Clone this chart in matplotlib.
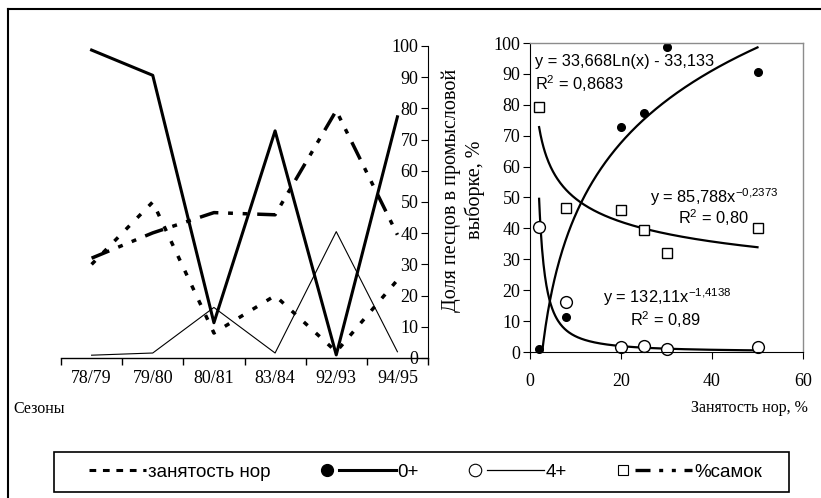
import numpy as np
import matplotlib
matplotlib.use('Agg')
import matplotlib.pyplot as plt
from matplotlib.lines import Line2D
from matplotlib.patches import Rectangle
from matplotlib.legend_handler import HandlerBase

# seasons and their values
seasons = ['78/79', '79/80', '80/81', '83/84', '92/93', '94/95']
burrows = [30, 50, 8, 20, 2, 25]               # занятость нор, %
age0 = [98.7, 90.6, 11.3, 72.8, 1.0, 77.3]     # 0+
age4 = [0.9, 1.6, 16.2, 1.6, 40.5, 2.0]        # 4+
females = [32, 40.1, 46.6, 45.9, 79.3, 39.5]   # % самок

# trendline coefficients printed on the chart
log_a, log_b = 33.668, -33.133
pow_f_a, pow_f_b = 85.788, -0.2373
pow_4_a, pow_4_b = 132.11, -1.4138

SERIF = ['Liberation Serif', 'DejaVu Serif']
SANS = ['Liberation Sans', 'DejaVu Sans']

plt.rcParams['font.family'] = SERIF
plt.rcParams['font.size'] = 13
plt.rcParams['mathtext.fontset'] = 'custom'
plt.rcParams['mathtext.rm'] = 'Liberation Sans'

W, H = 821, 498
fig = plt.figure(figsize=(W / 100, H / 100), dpi=100)


def fx(px):
    return px / W


def fy(py):
    return 1 - py / H


# outer frame (left and top edges visible)
fig.add_artist(Line2D([fx(8), fx(8)], [0, fy(9)], transform=fig.transFigure,
                      color='black', lw=1.5))
fig.add_artist(Line2D([fx(8), 1], [fy(9), fy(9)], transform=fig.transFigure,
                      color='black', lw=1.5))

# ---- left panel: seasons ----
ax1 = fig.add_axes([fx(61), fy(358), fx(428) - fx(61), fy(46) - fy(358)])
x = np.arange(len(seasons))
ax1.plot(x, burrows, color='black', lw=2.5, linestyle=(0, (1.5, 3.2)))
ax1.plot(x, age0, color='black', lw=2.2)
ax1.plot(x, age4, color='black', lw=0.8)
ax1.plot(x, females, color='black', lw=2.5,
         linestyle=(0, (5.5, 2.8, 1.4, 2.8, 1.4, 2.8)))
ax1.set_xlim(-0.5, len(seasons) - 0.5)
ax1.set_ylim(0, 100)
for s in ['left', 'top', 'right']:
    ax1.spines[s].set_visible(False)
ax1.spines['bottom'].set_linewidth(1)
ax1.set_yticks([])
ax1.set_xticks(x)
ax1.set_xticklabels(seasons)
ax1.set_xticks(np.arange(-0.5, len(seasons)), minor=True)
ax1.tick_params(axis='x', which='major', length=0, pad=8.5, labelsize=13)
ax1.tick_params(axis='x', which='minor', length=5, direction='out', width=1)
ax1.patch.set_alpha(0)

# value axis standing at the right edge of the left panel
yax = fig.add_axes([fx(428), fy(358), 0.0001, fy(46) - fy(358)])
yax.set_ylim(0, 100)
yax.set_yticks(range(0, 101, 10))
yax.set_xticks([])
for s in ['right', 'top', 'bottom']:
    yax.spines[s].set_visible(False)
yax.tick_params(axis='y', length=5, direction='out', pad=2, labelsize=13)

# ---- right panel: burrow occupancy ----
ax2 = fig.add_axes([fx(530), fy(352), fx(803) - fx(530), fy(43) - fy(352)])
xs = np.linspace(2, 50, 300)
ax2.plot(xs, log_a * np.log(xs) + log_b, color='black', lw=1.6)
ax2.plot(xs, pow_f_a * xs ** pow_f_b, color='black', lw=1.6)
ax2.plot(xs, pow_4_a * xs ** pow_4_b, color='black', lw=1.6)
ax2.plot(burrows, age0, linestyle='none', marker='o', ms=5.5,
         mfc='black', mec='black', clip_on=False)
ax2.plot(burrows, age4, linestyle='none', marker='o', ms=8.5,
         mfc='white', mec='black', mew=1, clip_on=False)
ax2.plot(burrows, females, linestyle='none', marker='s', ms=7.5,
         mfc='white', mec='black', mew=1, clip_on=False)
ax2.set_xlim(0, 60)
ax2.set_ylim(0, 100)
ax2.set_xticks([0, 20, 40, 60])
ax2.set_yticks(range(0, 101, 10))
ax2.tick_params(length=5, direction='out', pad=2, labelsize=13)
ax2.tick_params(axis='x', pad=10)
for s in ['top', 'right']:
    ax2.spines[s].set_color('#8c8c8c')
    ax2.spines[s].set_linewidth(1)

eq = dict(fontsize=11.8, family=SANS, va='center', ha='left')
ax2.text(1.1, 94, 'y = 33,668Ln(x) - 33,133', **eq)
ax2.text(1.1, 87, r'R$^{\mathregular{2}}$ = 0,8683', **eq)
ax2.text(26.4, 50.2, r'y = 85,788x$^{\mathregular{-0{,}2373}}$', **eq)
ax2.text(32.5, 43.4, r'R$^{\mathregular{2}}$ = 0,80', **eq)
ax2.text(16.1, 17.8, r'y = 132,11x$^{\mathregular{-1{,}4138}}$', **eq)
ax2.text(22, 10.4, r'R$^{\mathregular{2}}$ = 0,89', **eq)

fig.text(fx(463), fy(190), 'Доля песцов в промысловой\nвыборке, %',
         rotation=90, ha='center', va='center', multialignment='center',
         fontsize=14.5, linespacing=1.25, style='normal')
fig.text(fx(13), fy(409), 'Сезоны', ha='left', va='center', fontsize=11.5)
fig.text(fx(808), fy(408), 'Занятость нор, %', ha='right', va='center',
         fontsize=11.5)


# ---- legend: marker first, then the line ----
class MarkerThenLine(HandlerBase):
    def create_artists(self, legend, orig_handle, xdescent, ydescent,
                       width, height, fontsize, trans):
        mk, ln = orig_handle
        y = height / 2 - ydescent
        x0 = -xdescent
        artists = []
        if mk is not None:
            dot = Line2D([x0 + 0.08 * width], [y])
            dot.update_from(mk)
            dot.set_transform(trans)
            artists.append(dot)
        seg = Line2D([x0 + 0.24 * width, x0 + width], [y, y])
        seg.update_from(ln)
        seg.set_transform(trans)
        artists.append(seg)
        return artists


h_burrows = (None, Line2D([], [], color='black', lw=2.2, linestyle=(0, (2.2, 2.2))))
h_age0 = (Line2D([], [], linestyle='none', marker='o', ms=8.5, mfc='black', mec='black'),
          Line2D([], [], color='black', lw=2.2))
h_age4 = (Line2D([], [], linestyle='none', marker='o', ms=9, mfc='white', mec='black', mew=0.8),
          Line2D([], [], color='black', lw=0.9))
h_fem = (Line2D([], [], linestyle='none', marker='s', ms=7, mfc='white', mec='black', mew=0.8),
         Line2D([], [], color='black', lw=2.4, linestyle=(0, (4.5, 2.6, 1.2, 2.6, 1.2, 2.6))))

# legend box
fig.add_artist(Rectangle((fx(54), fy(492)), fx(789) - fx(54), fy(452) - fy(492),
                         transform=fig.transFigure, fill=False,
                         edgecolor='black', lw=1.2))
fig.legend([h_burrows, h_age0, h_age4, h_fem],
           ['занятость нор', '0+', '4+', '%самок'],
           loc='center', ncol=4, mode='expand', frameon=False,
           bbox_to_anchor=(fx(71), fy(488), fx(762) - fx(71), fy(456) - fy(488)),
           borderaxespad=0, borderpad=0, handlelength=4.0, handletextpad=0.1,
           prop={'family': SANS, 'size': 13.5},
           handler_map={tuple: MarkerThenLine()})

fig.savefig('out.png', dpi=100)
